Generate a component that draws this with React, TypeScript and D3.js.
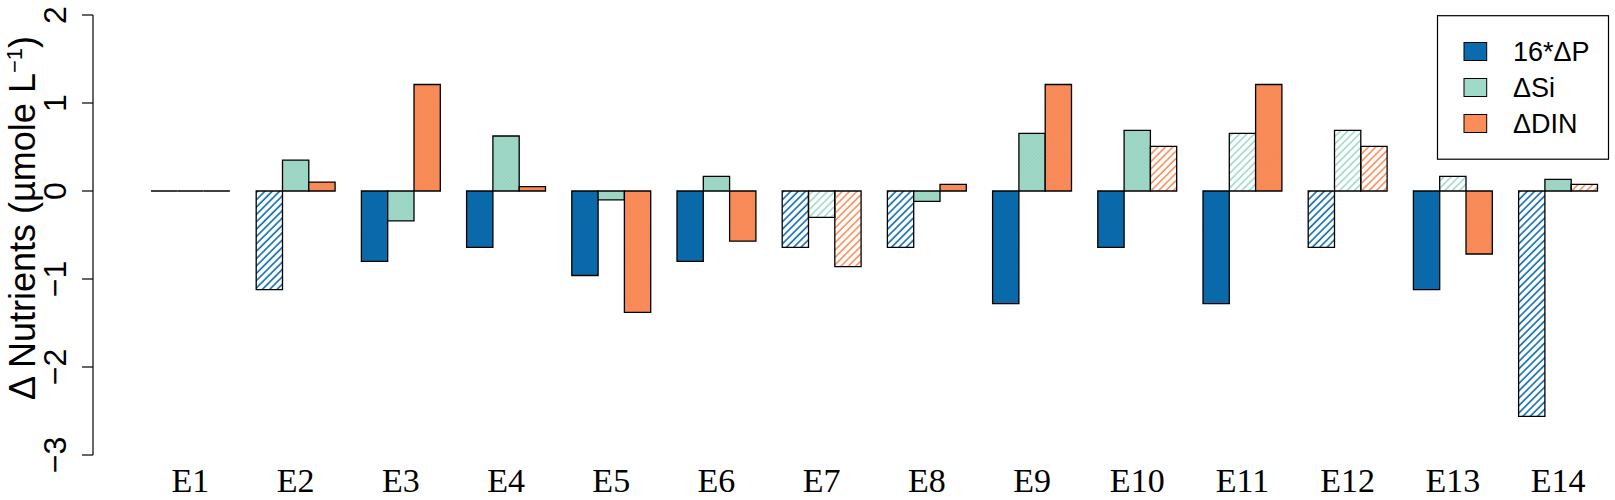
import * as d3 from "d3";
import { useEffect, useRef } from "react";

const WIDTH = 1615;
const HEIGHT = 500;

const experiments = ["E1", "E2", "E3", "E4", "E5", "E6", "E7", "E8", "E9", "E10", "E11", "E12", "E13", "E14"];
const seriesNames = ["16*\u0394P", "\u0394Si", "\u0394DIN"];
const seriesColors = ["#0a6bad", "#9fd9c8", "#fc8d59"];

const deltaP16 = [0, -1.12, -0.8, -0.64, -0.96, -0.8, -0.64, -0.64, -1.28, -0.64, -1.28, -0.64, -1.12, -2.56];
const deltaSi = [0, 0.35, -0.34, 0.625, -0.1, 0.167, -0.3, -0.117, 0.655, 0.69, 0.655, 0.69, 0.167, 0.133];
const deltaDIN = [0, 0.1, 1.21, 0.05, -1.38, -0.57, -0.86, 0.076, 1.21, 0.508, 1.21, 0.508, -0.716, 0.076];

// true = hatched (open) bar
const hatchP16 = [false, true, false, false, false, false, true, true, false, false, false, true, false, true];
const hatchSi = [false, false, false, false, false, false, true, false, false, false, true, true, true, false];
const hatchDIN = [false, false, false, false, false, false, true, false, false, true, false, true, false, true];

const yTicks = [-3, -2, -1, 0, 1, 2];

export default function App() {
    const svgRef = useRef<SVGSVGElement | null>(null);

    useEffect(() => {
        if (!svgRef.current) return;
        const svg = d3.select(svgRef.current);
        svg.selectAll("*").remove();

        const values = [deltaP16, deltaSi, deltaDIN];
        const hatches = [hatchP16, hatchSi, hatchDIN];

        const x0 = d3.scaleBand<string>().domain(experiments).range([151, 1597.5]).paddingInner(0.25).paddingOuter(0);
        const x1 = d3.scaleBand<number>().domain([0, 1, 2]).range([0, x0.bandwidth()]);
        const y = d3.scaleLinear().domain([-3, 2]).range([455, 15]);

        const defs = svg.append("defs");
        seriesColors.forEach((c, i) => {
            const hatch = defs
                .append("pattern")
                .attr("id", `hatch-${i}`)
                .attr("patternUnits", "userSpaceOnUse")
                .attr("width", 5.2)
                .attr("height", 5.2)
                .attr("patternTransform", "rotate(45)");
            hatch.append("line").attr("x1", 1).attr("y1", 0).attr("x2", 1).attr("y2", 5.2).attr("stroke", c).attr("stroke-width", 1.6);

            const solid = defs
                .append("pattern")
                .attr("id", `solid-${i}`)
                .attr("patternUnits", "userSpaceOnUse")
                .attr("width", 2.6)
                .attr("height", 2.6)
                .attr("patternTransform", "rotate(45)");
            solid.append("rect").attr("width", 2.6).attr("height", 2.6).attr("fill", c);
            solid
                .append("line")
                .attr("x1", 0.5)
                .attr("y1", 0)
                .attr("x2", 0.5)
                .attr("y2", 2.6)
                .attr("stroke", d3.color(c)!.darker(0.12).toString())
                .attr("stroke-width", 1);
        });

        // y axis
        const axis = svg.append("g").attr("font-family", "'Liberation Sans', Arial, sans-serif");
        axis.append("line").attr("x1", 93).attr("x2", 93).attr("y1", y(-3)).attr("y2", y(2)).attr("stroke", "#000").attr("stroke-width", 1.2);
        yTicks.forEach((t) => {
            axis.append("line").attr("x1", 82).attr("x2", 93).attr("y1", y(t)).attr("y2", y(t)).attr("stroke", "#000").attr("stroke-width", 1.2);
            axis
                .append("text")
                .attr("transform", `translate(66,${y(t)}) rotate(-90)`)
                .attr("text-anchor", "middle")
                .attr("font-size", 32)
                .text(t < 0 ? `\u2212${Math.abs(t)}` : `${t}`);
        });

        const title = axis
            .append("text")
            .attr("transform", `translate(35,218) rotate(-90)`)
            .attr("text-anchor", "middle")
            .attr("font-size", 36);
        title.append("tspan").text("\u0394 Nutrients (\u00b5mole L");
        title.append("tspan").attr("font-size", 22).attr("dy", -13).text("\u22121");
        title.append("tspan").attr("dy", 13).text(")");

        // bars
        const groups = svg
            .append("g")
            .selectAll("g")
            .data(experiments)
            .enter()
            .append("g")
            .attr("transform", (d) => `translate(${x0(d)},0)`);

        groups
            .selectAll("path")
            .data((_, gi) => [0, 1, 2].map((si) => ({ si, v: values[si][gi], h: hatches[si][gi] })))
            .enter()
            .append("path")
            .attr("d", (d) => {
                const bx = x1(d.si) ?? 0;
                const w = x1.bandwidth();
                return `M${bx},${y(0)}H${bx + w}V${y(d.v)}H${bx}Z`;
            })
            .attr("fill", (d) => (d.h ? `url(#hatch-${d.si})` : `url(#solid-${d.si})`))
            .attr("stroke", "#000")
            .attr("stroke-width", 1.3);

        // x labels
        svg.append("g")
            .selectAll("text")
            .data(experiments)
            .enter()
            .append("text")
            .attr("x", (d) => (x0(d) ?? 0) + x0.bandwidth() / 2)
            .attr("y", 492)
            .attr("text-anchor", "middle")
            .attr("font-family", "'Liberation Serif', 'Times New Roman', serif")
            .attr("font-size", 34)
            .text((d) => d);

        // legend
        const legend = svg.append("g").attr("font-family", "'Liberation Sans', Arial, sans-serif");
        legend.append("rect").attr("x", 1437.5).attr("y", 15.7).attr("width", 171).attr("height", 143.5).attr("fill", "#fff").attr("stroke", "#000").attr("stroke-width", 1.2);
        seriesNames.forEach((name, i) => {
            const cy = 51.5 + i * 36;
            legend
                .append("rect")
                .attr("x", 1464)
                .attr("y", cy - 9)
                .attr("width", 22.7)
                .attr("height", 18)
                .attr("fill", seriesColors[i])
                .attr("stroke", "#000")
                .attr("stroke-width", 1);
            legend.append("text").attr("x", 1513).attr("y", cy + 9.5).attr("font-size", 27).text(name);
        });
    }, []);

    return <svg ref={svgRef} width={WIDTH} height={HEIGHT} style={{ position: "absolute", left: 0, top: 0, background: "#fff" }} />;
}
